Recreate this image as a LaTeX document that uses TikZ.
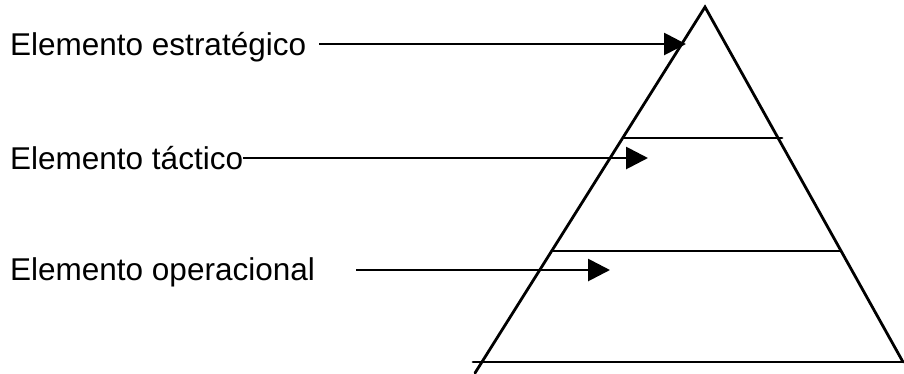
\documentclass[tikz,border=0pt]{standalone}
\usepackage{fontspec}
\setmainfont{Liberation Sans}
\usetikzlibrary{arrows.meta, positioning}

\begin{document}
\begin{tikzpicture}[
    x=1pt, y=-1pt,
    level/.style={font=\fontsize{31.5}{36}\selectfont, anchor=base west, inner sep=0pt},
    edge/.style={line width=2.8pt, line cap=round},
    arrow/.style={-{Triangle[length=22pt, width=22pt]}, line width=2.8pt}
]
\useasboundingbox (0,0) rectangle (904,373);

% Pyramid
\coordinate (apex) at (705,7);
\coordinate (left) at (475,373);
\coordinate (right) at (903,362);
\draw[edge] (left) -- (apex) -- (right);
\draw[edge] (473,362) coordinate (baseL) -- (904,362) coordinate (baseR);

% Level lines
\coordinate (cutAL) at (624,138);
\coordinate (cutAR) at (782,138);
\coordinate (cutBL) at (552,251);
\coordinate (cutBR) at (840,251);
\draw[edge] (cutAL) -- (cutAR);
\draw[edge] (cutBL) -- (cutBR);

% Labels
\node[level] (strat) at (10,55) {Elemento estratégico};
\node[level] (tact) at (10,169) {Elemento táctico};
\node[level] (oper) at (10,280) {Elemento operacional};

% Arrow tips
\coordinate (tipA) at (686,44);
\coordinate (tipB) at (648,158);
\coordinate (tipC) at (610,270);

% Arrows
\draw[arrow, shorten <=13pt] (strat.east |- tipA) -- (tipA);
\draw[arrow] (tact.east |- tipB) -- (tipB);
\draw[arrow, shorten <=41pt] (oper.east |- tipC) -- (tipC);

\end{tikzpicture}
\end{document}
